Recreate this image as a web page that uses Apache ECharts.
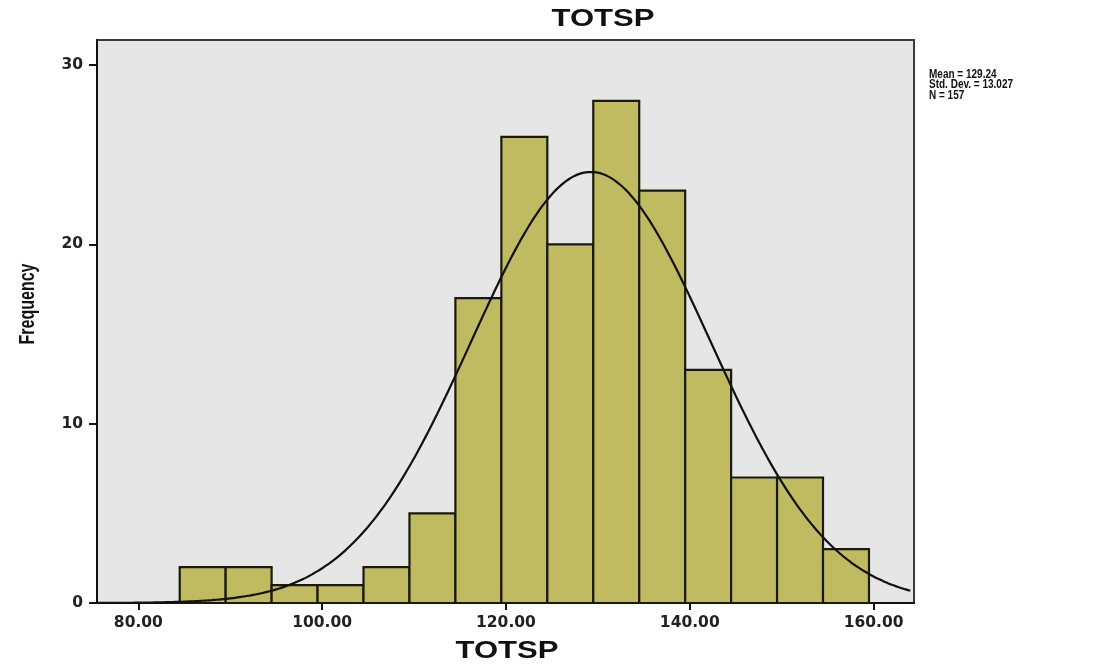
<!DOCTYPE html>
<html>
<head>
<meta charset="utf-8">
<title>TOTSP</title>
<script src="https://cdn.jsdelivr.net/npm/echarts@6/dist/echarts.min.js"></script>
<style>
  html, body { margin: 0; padding: 0; background: #ffffff; }
  #chart { width: 1117px; height: 666px; }
</style>
</head>
<body>
<div id="chart"></div>
<script>
// Histogram bins of TOTSP (lower edge of each bin) and their counts
const binStarts = [84.5, 89.5, 94.5, 99.5, 104.5, 109.5, 114.5, 119.5, 124.5, 129.5, 134.5, 139.5, 144.5, 149.5, 154.5];
const binWidth = 5;
const frequencies = [2, 2, 1, 1, 2, 5, 17, 26, 20, 28, 23, 13, 7, 7, 3];

// Summary statistics shown beside the plot
const mean = 129.24;
const stdDev = 13.027;
const n = 157;

// Axis ticks and ranges
const xTicks = [80, 100, 120, 140, 160];
const yTicks = [0, 10, 20, 30];
const xRange = [75.5, 164.4];
const yRange = [0, 31.4];

const chartTitle = 'TOTSP';
const xAxisTitle = 'TOTSP';
const yAxisTitle = 'Frequency';

const barData = binStarts.map((lo, i) => [lo, lo + binWidth, frequencies[i]]);

// Fitted normal curve from the stated mean and SD, scaled to counts per bin
const curveData = [];
for (let x = xRange[0]; x <= xRange[1] + 1e-9; x += 0.5) {
  const z = (x - mean) / stdDev;
  const y = n * binWidth / (stdDev * Math.sqrt(2 * Math.PI)) * Math.exp(-0.5 * z * z);
  curveData.push([x, y]);
}

const labelFont = { fontFamily: 'DejaVu Sans', fontWeight: 'bold', fontSize: 15.5, color: '#222' };
const headingFont = 'bold 23px "Liberation Sans", Arial, sans-serif';

const chart = echarts.init(document.getElementById('chart'));
chart.setOption({
  animation: false,
  backgroundColor: '#ffffff',
  graphic: [
    {
      // chart title, drawn wide
      type: 'text',
      x: 603, y: 20,
      scaleX: 1.35,
      style: { text: chartTitle, font: headingFont, fill: '#111', align: 'center', verticalAlign: 'middle' }
    },
    {
      // x axis title
      type: 'text',
      x: 507, y: 652,
      scaleX: 1.35,
      style: { text: xAxisTitle, font: headingFont, fill: '#111', align: 'center', verticalAlign: 'middle' }
    },
    {
      // y axis title, rotated
      type: 'text',
      x: 28, y: 304,
      rotation: Math.PI / 2,
      scaleY: 1.35,
      style: { text: yAxisTitle, font: 'bold 16px "Liberation Sans", Arial, sans-serif', fill: '#111', align: 'center', verticalAlign: 'middle' }
    },
    {
      // statistics block, drawn tall
      type: 'text',
      x: 929,
      y: 69,
      scaleY: 1.25,
      style: {
        text: 'Mean = ' + mean.toFixed(2) + '\nStd. Dev. = ' + stdDev.toFixed(3) + '\nN = ' + n,
        font: 'bold 10px "Liberation Sans", Arial, sans-serif',
        lineHeight: 8.4,
        fill: '#111'
      }
    }
  ],
  grid: {
    left: 97, right: 203, top: 40, bottom: 63,
    show: true,
    backgroundColor: '#e6e6e6',
    borderColor: '#3a3a3a',
    borderWidth: 2
  },
  xAxis: {
    type: 'value',
    min: xRange[0],
    max: xRange[1],
    axisLine: { show: true, lineStyle: { color: '#111', width: 2 } },
    axisTick: { show: true, customValues: xTicks, length: 7, lineStyle: { color: '#111', width: 2 } },
    axisLabel: Object.assign({ customValues: xTicks, margin: 12, formatter: v => v.toFixed(2) }, labelFont),
    splitLine: { show: false }
  },
  yAxis: {
    type: 'value',
    min: yRange[0],
    max: yRange[1],
    axisLine: { show: true, lineStyle: { color: '#111', width: 2 } },
    axisTick: { show: true, customValues: yTicks, length: 8, lineStyle: { color: '#111', width: 2 } },
    axisLabel: Object.assign({ customValues: yTicks, margin: 14 }, labelFont),
    splitLine: { show: false }
  },
  series: [
    {
      type: 'custom',
      data: barData,
      encode: { x: [0, 1], y: 2 },
      renderItem: function (params, api) {
        const p0 = api.coord([api.value(0), 0]);
        const p1 = api.coord([api.value(1), api.value(2)]);
        return {
          type: 'rect',
          shape: { x: p0[0], y: p1[1], width: p1[0] - p0[0], height: p0[1] - p1[1] },
          style: { fill: '#c0bb60', stroke: '#1a1a0a', lineWidth: 2.2 }
        };
      },
      z: 2
    },
    {
      type: 'line',
      data: curveData,
      showSymbol: false,
      smooth: true,
      lineStyle: { color: '#111', width: 2.2 },
      z: 3
    }
  ]
});
</script>
</body>
</html>
